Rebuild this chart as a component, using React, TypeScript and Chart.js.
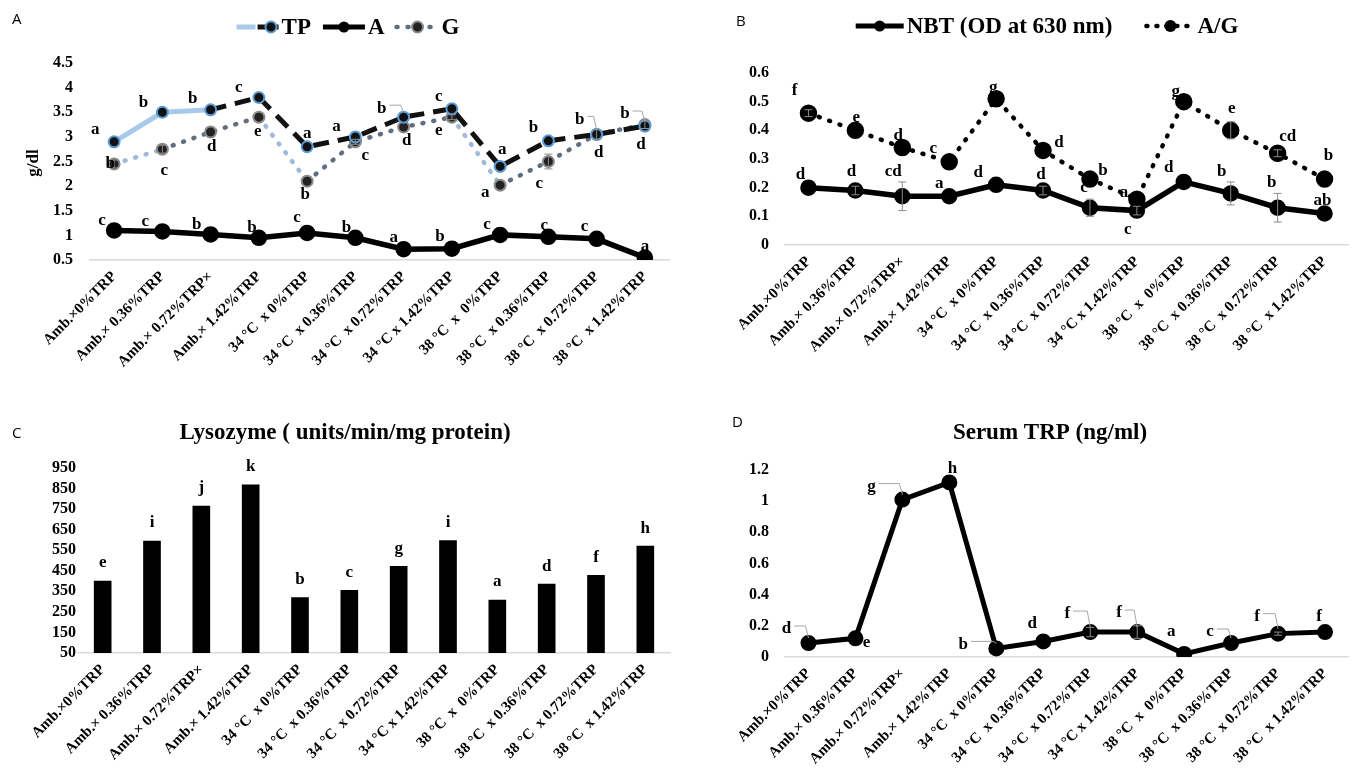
import React, { useEffect, useRef } from 'react';
import { Chart, registerables } from 'chart.js';

Chart.register(...registerables);

const SERIF = "'Liberation Serif', 'Times New Roman', serif";
const SANS = "'Open Sans', 'Liberation Sans', sans-serif";

// ---------- DATA ----------
const categories = [
  'Amb.×0%TRP',
  'Amb.× 0.36%TRP',
  'Amb.× 0.72%TRP×',
  'Amb.× 1.42%TRP',
  '34 °C  x 0%TRP',
  '34 °C  x 0.36%TRP',
  '34 °C  x 0.72%TRP',
  '34 °C x 1.42%TRP',
  '38 °C  x  0%TRP',
  '38 °C  x 0.36%TRP',
  '38 °C  x 0.72%TRP',
  '38 °C  x 1.42%TRP',
];

// Panel A (g/dl)
const tpValues = [2.9, 3.5, 3.55, 3.8, 2.8, 3.0, 3.4, 3.57, 2.4, 2.92, 3.05, 3.22];
const albuminValues = [1.1, 1.08, 1.02, 0.95, 1.05, 0.95, 0.72, 0.73, 1.01, 0.97, 0.93, 0.55];
const globulinValues = [2.45, 2.75, 3.1, 3.4, 2.1, 2.9, 3.2, 3.4, 2.02, 2.5, 3.05, 3.25];
const globulinErr = [0.08, 0.08, 0, 0, 0, 0.05, 0, 0.05, 0, 0.15, 0.1, 0.08];
const tpLetters = ['a', 'b', 'b', 'c', 'a', 'a', 'b', 'c', 'a', 'b', 'b', 'b'];
const albuminLetters = ['c', 'c', 'b', 'b', 'c', 'b', 'a', 'b', 'c', 'c', 'c', 'a'];
const globulinLetters = ['b', 'c', 'd', 'e', 'b', 'c', 'd', 'e', 'a', 'c', 'd', 'd'];
const aTicks = [0.5, 1, 1.5, 2, 2.5, 3, 3.5, 4, 4.5];

// Panel B
const nbtValues = [0.2, 0.19, 0.17, 0.17, 0.21, 0.19, 0.13, 0.12, 0.22, 0.18, 0.13, 0.11];
const nbtErr = [0, 0.015, 0.05, 0, 0, 0.015, 0.03, 0.015, 0, 0.04, 0.05, 0];
const agValues = [0.46, 0.4, 0.34, 0.29, 0.51, 0.33, 0.23, 0.16, 0.5, 0.4, 0.32, 0.23];
const agErr = [0.012, 0, 0, 0, 0, 0, 0, 0, 0, 0.03, 0.012, 0];
const nbtLetters = ['d', 'd', 'cd', 'a', 'd', 'd', 'c', 'c', 'd', 'b', 'b', 'ab'];
const agLetters = ['f', 'e', 'd', 'c', 'g', 'd', 'b', 'a', 'g', 'e', 'cd', 'b'];
const bTicks = [0, 0.1, 0.2, 0.3, 0.4, 0.5, 0.6];

// Panel C
const lysozymeValues = [400, 595, 765, 868, 320, 355, 472, 597, 308, 385, 428, 570];
const lysozymeLetters = ['e', 'i', 'j', 'k', 'b', 'c', 'g', 'i', 'a', 'd', 'f', 'h'];
const cTicks = [50, 150, 250, 350, 450, 550, 650, 750, 850, 950];

// Panel D
const serumTrpValues = [0.09, 0.12, 1.01, 1.12, 0.055, 0.1, 0.16, 0.16, 0.02, 0.09, 0.15, 0.16];
const serumTrpErr = [0, 0, 0, 0, 0, 0, 0.03, 0.04, 0, 0, 0.01, 0];
const serumTrpLetters = ['d', 'e', 'g', 'h', 'b', 'd', 'f', 'f', 'a', 'c', 'f', 'f'];
const dTicks = [0, 0.2, 0.4, 0.6, 0.8, 1, 1.2];

// ---------- OVERLAY PLUGIN ----------
function drawMarker(ctx: CanvasRenderingContext2D, x: number, y: number, m: any) {
  ctx.save();
  ctx.setLineDash([]);
  ctx.beginPath();
  ctx.arc(x, y, m.r, 0, Math.PI * 2);
  ctx.fillStyle = m.fill;
  ctx.fill();
  if (m.stroke) {
    ctx.lineWidth = m.sw || 2;
    ctx.strokeStyle = m.stroke;
    ctx.stroke();
  }
  ctx.restore();
}

const overlayPlugin = {
  id: 'overlay',
  afterDatasetsDraw(chart: any, _args: any, opts: any) {
    const ctx: CanvasRenderingContext2D = chart.ctx;
    const ys = chart.scales.y;
    (opts.errors || []).forEach((e: any) => {
      const meta = chart.getDatasetMeta(e.dataset);
      const data = chart.data.datasets[e.dataset].data;
      meta.data.forEach((el: any, i: number) => {
        const err = e.values[i];
        if (!err) return;
        const y1 = ys.getPixelForValue(data[i] + err);
        const y2 = ys.getPixelForValue(data[i] - err);
        ctx.save();
        ctx.strokeStyle = e.color || '#8c8c8c';
        ctx.lineWidth = 1;
        ctx.beginPath();
        ctx.moveTo(el.x, y1);
        ctx.lineTo(el.x, y2);
        ctx.moveTo(el.x - 4, y1);
        ctx.lineTo(el.x + 4, y1);
        ctx.moveTo(el.x - 4, y2);
        ctx.lineTo(el.x + 4, y2);
        ctx.stroke();
        ctx.restore();
      });
    });
    (opts.letters || []).forEach((set: any) => {
      const meta = chart.getDatasetMeta(set.dataset);
      meta.data.forEach((el: any, i: number) => {
        const t = set.text[i];
        if (!t) return;
        const dx = set.dx ? set.dx[i] : 0;
        const dy = set.dy ? set.dy[i] : set.dyAll || 0;
        const tx = el.x + dx;
        const ty = el.y + dy;
        ctx.save();
        ctx.font = set.font || `bold 17px ${SERIF}`;
        ctx.fillStyle = '#000';
        ctx.textAlign = 'center';
        ctx.textBaseline = 'middle';
        ctx.fillText(t, tx, ty);
        if (set.leader && set.leader[i]) {
          const w = ctx.measureText(t).width;
          const sx = tx + w / 2 + 3;
          const ly = ty - 3;
          ctx.strokeStyle = '#a6a6a6';
          ctx.lineWidth = 1;
          ctx.beginPath();
          ctx.moveTo(sx, ly);
          const hx = Math.max(sx + 4, el.x - 3);
          ctx.lineTo(hx, ly);
          ctx.lineTo(el.x, el.y - 5);
          ctx.stroke();
        }
        ctx.restore();
      });
    });
  },
  afterDraw(chart: any, _args: any, opts: any) {
    const ctx: CanvasRenderingContext2D = chart.ctx;
    (opts.texts || []).forEach((t: any) => {
      ctx.save();
      ctx.font = t.font;
      ctx.fillStyle = '#000';
      ctx.textAlign = t.align || 'center';
      ctx.textBaseline = 'middle';
      ctx.translate(t.x, t.y);
      if (t.rotate) ctx.rotate((t.rotate * Math.PI) / 180);
      ctx.fillText(t.text, 0, 0);
      ctx.restore();
    });
    const lg = opts.legend;
    if (lg) {
      ctx.save();
      ctx.font = lg.font;
      const widths = lg.items.map((it: any) => lg.sampleW + lg.gap + ctx.measureText(it.text).width);
      const total = widths.reduce((a: number, b: number) => a + b, 0) + lg.itemGap * (lg.items.length - 1);
      let x = lg.cx - total / 2;
      const y = lg.cy;
      lg.items.forEach((it: any, i: number) => {
        ctx.save();
        ctx.lineWidth = it.width;
        ctx.lineCap = it.cap || 'butt';
        if (it.pre) {
          ctx.setLineDash([]);
          ctx.strokeStyle = it.pre;
          ctx.beginPath();
          ctx.moveTo(x, y);
          ctx.lineTo(x + lg.sampleW * 0.45, y);
          ctx.stroke();
          ctx.setLineDash(it.dash || []);
          ctx.strokeStyle = it.color;
          ctx.beginPath();
          ctx.moveTo(x + lg.sampleW * 0.5, y);
          ctx.lineTo(x + lg.sampleW, y);
          ctx.stroke();
        } else {
          ctx.setLineDash(it.dash || []);
          ctx.strokeStyle = it.color;
          ctx.beginPath();
          ctx.moveTo(x, y);
          ctx.lineTo(x + lg.sampleW, y);
          ctx.stroke();
        }
        ctx.restore();
        drawMarker(ctx, x + lg.sampleW * (it.mpos ?? 0.5), y, it.marker);
        ctx.fillStyle = '#000';
        ctx.textAlign = 'left';
        ctx.textBaseline = 'middle';
        ctx.fillText(it.text, x + lg.sampleW + lg.gap, y + 1);
        x += widths[i] + lg.itemGap;
      });
      ctx.restore();
    }
  },
};

// ---------- CONFIG HELPERS ----------
function scalesFor(yTicks: number[], yW: number, xH: number, tickPad: number) {
  return {
    x: {
      offset: true,
      grid: { display: false, drawTicks: false },
      border: { display: true, color: '#d9d9d9', width: 1.5 },
      ticks: {
        autoSkip: false,
        maxRotation: 45,
        minRotation: 45,
        padding: 8,
        color: '#000',
        font: { family: SERIF, weight: 'bold', size: 15 },
      },
      afterFit: (s: any) => {
        s.height = xH;
      },
    },
    y: {
      min: yTicks[0],
      max: yTicks[yTicks.length - 1],
      grid: { display: false, drawTicks: false },
      border: { display: false },
      ticks: {
        autoSkip: false,
        padding: tickPad,
        color: '#000',
        font: { family: SERIF, weight: 'bold', size: 16 },
        callback: (v: any) => String(v),
      },
      afterBuildTicks: (s: any) => {
        s.ticks = yTicks.map((v) => ({ value: v }));
      },
      afterFit: (s: any) => {
        s.width = yW;
      },
    },
  };
}

function baseOptions(pad: any, yTicks: number[], yW: number, xH: number, tickPad: number, overlay: any) {
  return {
    responsive: false,
    animation: false,
    layout: { padding: { top: pad.top, right: pad.right, left: 0, bottom: 0 } },
    plugins: {
      legend: { display: false },
      tooltip: { enabled: false },
      overlay,
    },
    scales: scalesFor(yTicks, yW, xH, tickPad),
  };
}

const LETTER_FONT = `bold 17px ${SERIF}`;

function configA() {
  return {
    type: 'line',
    data: {
      labels: categories,
      datasets: [
        {
          label: 'TP',
          data: tpValues,
          borderColor: '#111',
          borderWidth: 5,
          borderDash: [16, 9],
          tension: 0,
          pointRadius: 5.5,
          pointBackgroundColor: '#111',
          pointBorderColor: '#5b9bd5',
          pointBorderWidth: 2,
          segment: {
            borderColor: (c: any) => (c.p0DataIndex < 2 ? '#a9c9ea' : '#111'),
            borderDash: (c: any) => (c.p0DataIndex < 2 ? [] : [16, 9]),
          },
        },
        {
          label: 'A',
          data: albuminValues,
          borderColor: '#000',
          borderWidth: 5.5,
          tension: 0,
          pointRadius: 5.5,
          pointBackgroundColor: '#000',
          pointBorderColor: '#000',
        },
        {
          label: 'G',
          data: globulinValues,
          borderColor: '#5f6f80',
          borderWidth: 4.5,
          borderDash: [1, 10],
          borderCapStyle: 'round',
          tension: 0,
          pointRadius: 5.5,
          pointBackgroundColor: '#222',
          pointBorderColor: '#8a8a8a',
          pointBorderWidth: 2,
          segment: {
            borderColor: (c: any) => ([0, 3, 7].includes(c.p0DataIndex) ? '#9dbbd9' : '#5f6f80'),
          },
        },
      ],
    },
    options: baseOptions({ top: 63, right: 5 }, aTicks, 90, 130, 17, {
      texts: [
        { text: 'A', x: 12, y: 20, font: `15px ${SANS}`, align: 'left' },
        { text: 'g/dl', x: 34, y: 163, rotate: -90, font: `bold 17px ${SERIF}` },
      ],
      legend: {
        cx: 348,
        cy: 27,
        font: `bold 23px ${SERIF}`,
        sampleW: 42,
        gap: 3,
        itemGap: 12,
        items: [
          { text: 'TP', color: '#111', pre: '#a9c9ea', width: 5, dash: [12, 6], mpos: 0.82, marker: { r: 5.5, fill: '#111', stroke: '#5b9bd5', sw: 2 } },
          { text: 'A', color: '#000', width: 5, marker: { r: 5.5, fill: '#000' } },
          { text: 'G', color: '#5f6f80', width: 4.5, dash: [1, 10], cap: 'round', marker: { r: 5.5, fill: '#222', stroke: '#8a8a8a', sw: 2 } },
        ],
      },
      errors: [{ dataset: 2, values: globulinErr }],
      letters: [
        {
          dataset: 0,
          text: tpLetters,
          font: LETTER_FONT,
          dx: [-19, -19, -18, -20, 0, -19, -22, -13, 2, -15, -17, -20],
          dy: [-12, -10, -11, -10, -13, -10, -9, -12, -17, -13, -15, -12],
          leader: [0, 0, 0, 0, 0, 0, 1, 0, 0, 0, 1, 1],
        },
        {
          dataset: 1,
          text: albuminLetters,
          font: LETTER_FONT,
          dx: [-12, -17, -14, -7, -10, -9, -10, -12, -13, -4, -12, 0],
          dy: [-10, -10, -10, -10, -15, -10, -12, -12, -10, -11, -12, -11],
        },
        {
          dataset: 2,
          text: globulinLetters,
          font: LETTER_FONT,
          dx: [-4, 2, 1, -1, -2, 10, 3, -13, -15, -9, 2, -4],
          dy: [0, 21, 15, 14, 13, 14, 14, 13, 7, 22, 18, 20],
        },
      ],
    }),
    plugins: [overlayPlugin],
  };
}

function configB() {
  return {
    type: 'line',
    data: {
      labels: categories,
      datasets: [
        {
          label: 'NBT (OD at 630 nm)',
          data: nbtValues,
          borderColor: '#000',
          borderWidth: 5.5,
          tension: 0,
          pointRadius: 5.5,
          pointBackgroundColor: '#000',
          pointBorderColor: '#000',
        },
        {
          label: 'A/G',
          data: agValues,
          borderColor: '#000',
          borderWidth: 4.5,
          borderDash: [1, 10],
          borderCapStyle: 'round',
          tension: 0,
          pointRadius: 6.5,
          pointBackgroundColor: '#000',
          pointBorderColor: '#000',
        },
      ],
    },
    options: baseOptions({ top: 73, right: 2 }, bTicks, 105, 145, 16, {
      texts: [{ text: 'B', x: 56, y: 22, font: `15px ${SANS}`, align: 'left' }],
      legend: {
        cx: 367,
        cy: 26,
        font: `bold 23px ${SERIF}`,
        sampleW: 48,
        gap: 3,
        itemGap: 34,
        items: [
          { text: 'NBT (OD at 630 nm)', color: '#000', width: 5, marker: { r: 5.5, fill: '#000' } },
          { text: 'A/G', color: '#000', width: 4.5, dash: [1, 9], cap: 'round', marker: { r: 6, fill: '#000' } },
        ],
      },
      errors: [
        { dataset: 0, values: nbtErr },
        { dataset: 1, values: agErr },
      ],
      letters: [
        {
          dataset: 0,
          text: nbtLetters,
          font: LETTER_FONT,
          dx: [-8, -4, -9, -10, -18, -2, -6, -9, -15, -9, -6, -2],
          dy: [-13, -19, -25, -13, -12, -16, -20, 19, -14, -22, -25, -13],
        },
        {
          dataset: 1,
          text: agLetters,
          font: LETTER_FONT,
          dx: [-14, 1, -4, -16, -3, 16, 13, -13, -8, 1, 10, 4],
          dy: [-23, -13, -12, -13, -11, -8, -8, -7, -10, -22, -17, -23],
        },
      ],
    }),
    plugins: [overlayPlugin],
  };
}

function configC() {
  return {
    type: 'bar',
    data: {
      labels: categories,
      datasets: [
        {
          label: 'Lysozyme',
          data: lysozymeValues,
          backgroundColor: '#000',
          barThickness: 17,
        },
      ],
    },
    options: baseOptions({ top: 68, right: 10 }, cTicks, 78, 125, 2, {
      texts: [
        { text: 'C', x: 12, y: 34, font: `15px ${SANS}`, align: 'left' },
        { text: 'Lysozyme ( units/min/mg protein)', x: 345, y: 33, font: `bold 23px ${SERIF}` },
      ],
      letters: [{ dataset: 0, text: lysozymeLetters, font: LETTER_FONT, dyAll: -18 }],
    }),
    plugins: [overlayPlugin],
  };
}

function configD() {
  return {
    type: 'line',
    data: {
      labels: categories,
      datasets: [
        {
          label: 'Serum TRP (ng/ml)',
          data: serumTrpValues,
          borderColor: '#000',
          borderWidth: 5,
          tension: 0,
          pointRadius: 5.5,
          pointBackgroundColor: '#000',
          pointBorderColor: '#000',
        },
      ],
    },
    options: baseOptions({ top: 70, right: 2 }, dTicks, 105, 121, 16, {
      texts: [
        { text: 'D', x: 52, y: 23, font: `15px ${SANS}`, align: 'left' },
        { text: 'Serum TRP (ng/ml)', x: 370, y: 33, font: `bold 23px ${SERIF}` },
      ],
      errors: [{ dataset: 0, values: serumTrpErr }],
      letters: [
        {
          dataset: 0,
          text: serumTrpLetters,
          font: LETTER_FONT,
          dx: [-22, 11, -31, 3, -33, -11, -23, -18, -13, -21, -21, -6],
          dy: [-14, 4, -13, -14, -4, -18, -18, -19, -22, -11, -17, -15],
          leader: [1, 0, 1, 0, 1, 0, 1, 1, 0, 1, 1, 0],
        },
      ],
    }),
    plugins: [overlayPlugin],
  };
}

function ChartPanel({ make, left, top, width, height }: any) {
  const ref = useRef<HTMLCanvasElement>(null);
  useEffect(() => {
    const chart = new Chart(ref.current as HTMLCanvasElement, make());
    return () => chart.destroy();
  }, []);
  return (
    <canvas
      ref={ref}
      width={width}
      height={height}
      style={{ position: 'absolute', left, top, width, height }}
    />
  );
}

export default function App() {
  return (
    <div style={{ position: 'absolute', left: 0, top: 0, width: 1359, height: 778, background: '#fff', overflow: 'hidden' }}>
      <ChartPanel make={configA} left={0} top={0} width={680} height={390} />
      <ChartPanel make={configB} left={680} top={0} width={679} height={390} />
      <ChartPanel make={configC} left={0} top={400} width={680} height={378} />
      <ChartPanel make={configD} left={680} top={400} width={679} height={378} />
    </div>
  );
}
